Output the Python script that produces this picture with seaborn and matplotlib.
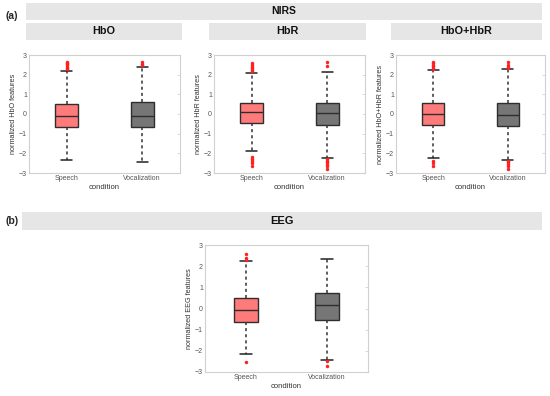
import pandas as pd
import matplotlib.pyplot as plt
import seaborn as sns
from matplotlib.patches import Rectangle

# datos
conditions = ["Speech", "Vocalization"]
panels = ["HbO", "HbR", "HbO+HbR", "EEG"]
ylabels = ["normalized HbO features", "normalized HbR features",
           "normalized HbO+HbR features", "normalized EEG features"]

# resumen de cinco numeros: bigote bajo, q1, mediana, q3, bigote alto
hbo_speech = [-2.32, -0.65, -0.12, 0.49, 2.2]
hbo_vocal = [-2.45, -0.66, -0.12, 0.6, 2.39]
hbr_speech = [-1.88, -0.48, 0.1, 0.55, 2.11]
hbr_vocal = [-2.23, -0.58, 0.03, 0.55, 2.16]
both_speech = [-2.23, -0.58, 0.0, 0.55, 2.23]
both_vocal = [-2.32, -0.63, -0.07, 0.58, 2.28]
eeg_speech = [-2.14, -0.66, -0.09, 0.49, 2.25]
eeg_vocal = [-2.41, -0.53, 0.18, 0.72, 2.36]

# valores atipicos
hbo_speech_out = [2.27, 2.33, 2.4, 2.47, 2.53, 2.6, 2.65]
hbo_vocal_out = [2.5, 2.55, 2.62]
hbr_speech_out = [2.2, 2.25, 2.32, 2.4, 2.5, 2.6, -2.2, -2.3, -2.4, -2.5, -2.62]
hbr_vocal_out = [2.45, 2.62, -2.3, -2.38, -2.45, -2.55, -2.65, -2.8]
both_speech_out = [2.27, 2.35, 2.42, 2.5, 2.58, 2.63, -2.4, -2.5, -2.62]
both_vocal_out = [2.32, 2.4, 2.5, 2.62, -2.37, -2.45, -2.55, -2.65, -2.8]
eeg_speech_out = [2.3, 2.4, 2.57, -2.52]
eeg_vocal_out = [-2.5, -2.7]

summaries = [(hbo_speech, hbo_vocal), (hbr_speech, hbr_vocal),
             (both_speech, both_vocal), (eeg_speech, eeg_vocal)]
outliers = [(hbo_speech_out, hbo_vocal_out), (hbr_speech_out, hbr_vocal_out),
            (both_speech_out, both_vocal_out), (eeg_speech_out, eeg_vocal_out)]

sns.set_style("white")
plt.rcParams['font.family'] = ['Liberation Sans', 'DejaVu Sans']

W, H = 550, 396
fig = plt.figure(figsize=(W / 100, H / 100), dpi=100)


def px_rect(x0, y0, x1, y1):
    return [x0 / W, 1 - y1 / H, (x1 - x0) / W, (y1 - y0) / H]


rects = [px_rect(29, 55, 180, 173), px_rect(214, 55, 365, 173),
         px_rect(396, 55, 545, 173), px_rect(205, 245, 368, 372)]

palette = {"Speech": "#ff7b7b", "Vocalization": "#767676"}

for i in range(4):
    ax = fig.add_axes(rects[i])
    rows = []
    for cond, vals in zip(conditions, summaries[i]):
        for v in vals:
            rows.append({"condition": cond, "value": v})
    df = pd.DataFrame(rows)
    sns.boxplot(data=df, x="condition", y="value", hue="condition", order=conditions,
                palette=palette, saturation=1, whis=(0, 100), width=0.3,
                linecolor="#2e2e2e", linewidth=1.0, legend=False, ax=ax,
                whiskerprops=dict(linestyle=(0, (2, 2)), color="#333333", linewidth=1.1),
                capprops=dict(color="#222222", linewidth=1.1),
                medianprops=dict(color="#2e2e2e", linewidth=1.0))
    orows = []
    for cond, vals in zip(conditions, outliers[i]):
        for v in vals:
            orows.append({"condition": cond, "value": v})
    dfo = pd.DataFrame(orows)
    sns.stripplot(data=dfo, x="condition", y="value", order=conditions, jitter=False,
                  color="#ff2020", size=2.5, linewidth=0, ax=ax)

    ax.set_ylim(-3, 3)
    ax.set_xlim(-0.5, 1.5)
    ax.set_yticks([-3, -2, -1, 0, 1, 2, 3])
    ax.set_yticklabels(["\u22123", "\u22122", "\u22121", "0", "1", "2", "3"])
    ax.set_xlabel("condition", fontsize=5.5, color="#333333", labelpad=1.5)
    ax.set_ylabel(ylabels[i], fontsize=5.2, color="#333333", labelpad=1)
    ax.tick_params(axis="both", labelsize=5, colors="#555555", length=2,
                   direction="in", width=0.5, pad=1.5, right=True)
    ax.tick_params(axis="both", color="#cccccc")
    for s in ax.spines.values():
        s.set_color("#d0d0d0")
        s.set_linewidth(0.8)

# franjas de titulos
banners = [("NIRS", 26, 3, 542, 20, 7.5), ("HbO", 26, 23, 182, 40, 7.8),
           ("HbR", 209, 23, 366, 40, 7.8), ("HbO+HbR", 391, 23, 542, 40, 7.8),
           ("EEG", 22, 212, 542, 230, 8)]
for txt, x0, y0, x1, y1, fs in banners:
    r = px_rect(x0, y0, x1, y1)
    fig.patches.append(Rectangle((r[0], r[1]), r[2], r[3], transform=fig.transFigure,
                                 facecolor="#e6e6e6", edgecolor="none"))
    fig.text(r[0] + r[2] / 2, r[1] + r[3] / 2, txt, ha="center", va="center",
             fontsize=fs, fontweight="bold", color="#111111")

fig.text(12 / W, 1 - 16 / H, "(a)", ha="center", va="center", fontsize=7.5, fontweight="bold")
fig.text(12 / W, 1 - 221 / H, "(b)", ha="center", va="center", fontsize=7.5, fontweight="bold")

plt.savefig("out.png", dpi=100)
